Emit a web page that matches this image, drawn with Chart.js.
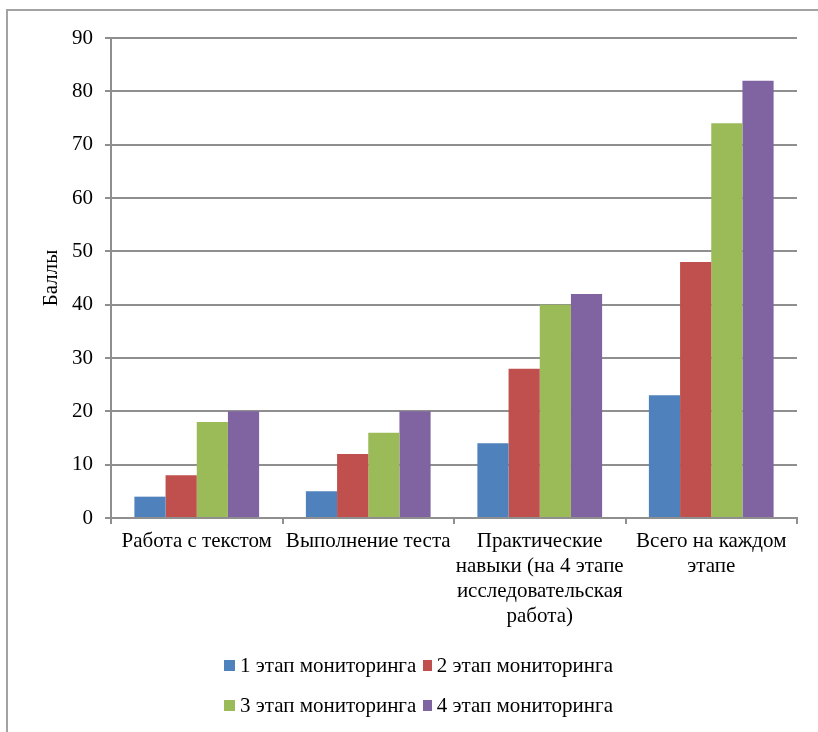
<!DOCTYPE html>
<html lang="ru">
<head>
<meta charset="utf-8">
<title>Баллы по этапам мониторинга</title>
<script src="https://cdn.jsdelivr.net/npm/chart.js@4.4.1/dist/chart.umd.min.js"></script>
<style>
    body { margin: 0; background: #fff; }
    .frame {
        position: relative;
        width: 818px;
        height: 732px;
        overflow: hidden;
        font-family: 'Liberation Serif', Tinos, Times, 'DejaVu Serif', serif;
    }
    .frame__border {
        position: absolute;
        left: 6px;
        top: 9px;
        width: 830px;
        height: 740px;
        border-left: 2px solid #a3a3a3;
        border-top: 2px solid #a3a3a3;
    }
    #stages-chart { position: absolute; left: 0; top: 0; }
    .legend {
        position: absolute;
        left: 224px;
        top: 652px;
        display: grid;
        grid-template-columns: 199px 190px;
        row-gap: 14px;
        font-size: 21px;
        line-height: 26px;
    }
    .legend__item { display: flex; align-items: center; white-space: nowrap; }
    .legend__box { width: 11px; height: 11px; margin-right: 5px; }
</style>
</head>
<body>
<div class="frame">
    <div class="frame__border"></div>
    <canvas id="stages-chart" width="818" height="732"></canvas>
    <div class="legend" id="stages-legend"></div>
</div>

<script>
// Категории (подписи оси X, переносы строк заданы вручную)
const categories = [
    ['Работа с текстом'],
    ['Выполнение теста'],
    ['Практические', 'навыки (на 4 этапе', 'исследовательская', 'работа)'],
    ['Всего на каждом', 'этапе']
];

const seriesNames = ['1 этап мониторинга', '2 этап мониторинга', '3 этап мониторинга', '4 этап мониторинга'];
const seriesColors = ['#4F81BD', '#C0504D', '#9BBB59', '#8064A2'];

// Баллы по этапам
const stage1 = [4, 5, 14, 23];
const stage2 = [8, 12, 28, 48];
const stage3 = [18, 16, 40, 74];
const stage4 = [20, 20, 42, 82];

const yMin = 0;
const yMax = 90;
const yStep = 10;

const axisTitle = 'Баллы';

const FONT_FAMILY = "'Liberation Serif', Tinos, Times, 'DejaVu Serif', serif";
const GRID_COLOR = '#8f8f8f';

const values = [stage1, stage2, stage3, stage4];

const datasets = values.map((data, i) => ({
    label: seriesNames[i],
    data: data,
    backgroundColor: seriesColors[i],
    borderWidth: 0,
    categoryPercentage: 4 / 5.5,
    barPercentage: 1
}));

new Chart(document.getElementById('stages-chart'), {
    type: 'bar',
    data: { labels: categories, datasets: datasets },
    options: {
        responsive: false,
        animation: false,
        devicePixelRatio: 1,
        layout: { padding: { left: 0, top: 38, right: 21, bottom: 100 } },
        plugins: {
            legend: { display: false },
            tooltip: { enabled: false }
        },
        scales: {
            x: {
                grid: {
                    display: true,
                    drawOnChartArea: false,
                    drawTicks: true,
                    tickLength: 6,
                    color: GRID_COLOR,
                    lineWidth: 2
                },
                border: { display: true, color: GRID_COLOR, width: 2 },
                ticks: {
                    color: '#000',
                    padding: 5,
                    maxRotation: 0,
                    autoSkip: false,
                    font: { family: FONT_FAMILY, size: 21, lineHeight: '25px' }
                },
                afterFit: scale => { scale.height = 114; }
            },
            y: {
                min: yMin,
                max: yMax,
                grid: {
                    color: GRID_COLOR,
                    lineWidth: 2,
                    drawTicks: true,
                    tickLength: 6
                },
                border: { display: true, color: GRID_COLOR, width: 2 },
                ticks: {
                    stepSize: yStep,
                    color: '#000',
                    padding: 12,
                    font: { family: FONT_FAMILY, size: 21 }
                },
                title: {
                    display: true,
                    text: axisTitle,
                    color: '#000',
                    padding: { top: 39, bottom: 0 },
                    font: { family: FONT_FAMILY, size: 21, lineHeight: 1.2 }
                },
                afterFit: scale => { scale.width = 111; }
            }
        }
    }
});

// Легенда в две строки
const legendEl = document.getElementById('stages-legend');
legendEl.innerHTML = seriesNames.map((name, i) => `
    <div class="legend__item">
        <span class="legend__box" style="background:${seriesColors[i]}"></span>${name}
    </div>
`).join('');
</script>
</body>
</html>
